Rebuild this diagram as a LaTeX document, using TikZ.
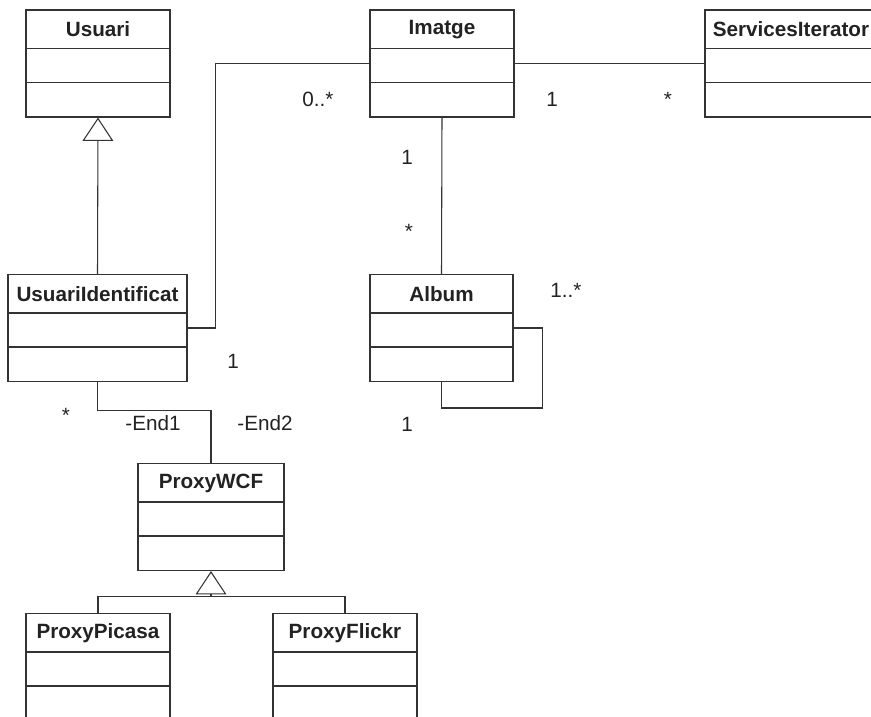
\documentclass[tikz,border=0pt]{standalone}
\usepackage{fontspec}
\setmainfont{Liberation Sans}
\usetikzlibrary{arrows.meta,calc}

\definecolor{linegray}{RGB}{51,51,51}
\definecolor{textgray}{RGB}{34,34,34}

\tikzset{
    umlbox/.style={draw=linegray, line width=1.1pt, rectangle, inner sep=0pt, minimum height=80pt},
    umltitle/.style={font=\bfseries\fontsize{15.5}{18}\selectfont, text=textgray, inner sep=0pt},
    compline/.style={draw=linegray, line width=1.1pt},
    mult/.style={font=\fontsize{15.5}{18}\selectfont, text=textgray, inner sep=0pt, anchor=base},
    assoc/.style={draw=linegray, line width=0.8pt},
    gener/.style={assoc, -{Triangle[open, length=17.5pt, width=23pt, line width=0.8pt]}}
}

% class box: name, centre, width, title
\newcommand{\umlclass}[4]{%
    \node[umlbox, minimum width=#3] (#1) at (#2) {};
    \node[umltitle] (#1-title) at ($(#1.north)+(0,20)$) {#4};
    \draw[compline] ($(#1.north west)+(0,39)$) -- ($(#1.north east)+(0,39)$);
    \draw[compline] ($(#1.north west)+(0,73)$) -- ($(#1.north east)+(0,73)$);
}

\begin{document}
\begin{tikzpicture}[x=0.75pt,y=0.75pt,yscale=-1,xscale=1]
        \path[use as bounding box, clip] (0,0) rectangle (871,717);

        %Classes
        \umlclass{usuari}{98,63.5}{108pt}{Usuari}
        \umlclass{imatge}{442,63.5}{108pt}{Imatge}
        \umlclass{services}{791,63.5}{129pt}{ServicesIterator}
        \umlclass{ident}{97.5,328}{134.25pt}{UsuariIdentificat}
        \umlclass{album}{441.5,328}{107.25pt}{Album}
        \umlclass{wcf}{211,517}{109.5pt}{ProxyWCF}
        \umlclass{picasa}{98,667}{108pt}{ProxyPicasa}
        \umlclass{flickr}{345,667}{108pt}{ProxyFlickr}

        %Associations
        \draw[assoc] (imatge.east) -- (services.west);
        \draw[assoc] (ident.east) -- ++(28,0) |- (imatge.west);
        \draw[assoc] (imatge.south) -- (album.north);
        \draw[assoc] (album.east) -- ++(29,0) -- ++(0,80) -| (album.south);
        \draw[assoc] (ident.south) -- ++(0,28) -| (wcf.north);

        %Generalizations
        \draw[gener] (ident.north) -- (usuari.south);
        \coordinate (genjoin) at ($(wcf.south)+(0,25)$);
        \draw[assoc] (picasa.north) |- (genjoin) -| (flickr.north);
        \draw[gener] (genjoin) -- (wcf.south);

        %Multiplicities and role names
        \node[mult] (m-imgident) at (318,107) {0..*};
        \node[mult] (m-imgsrv) at (552,107) {1};
        \node[mult] (m-srvimg) at (668,107) {*};
        \node[mult] (m-imgalb) at (407,164) {1};
        \node[mult] (m-albimg) at (409,238) {*};
        \node[mult] (m-albself1) at (566,297) {1..*};
        \node[mult] (m-identimg) at (233,368) {1};
        \node[mult] (m-identwcf) at (66,422) {*};
        \node[mult] (m-end1) at (153,430) {-End1};
        \node[mult] (m-end2) at (265,430) {-End2};
        \node[mult] (m-albself2) at (407,431) {1};

\end{tikzpicture}
\end{document}
